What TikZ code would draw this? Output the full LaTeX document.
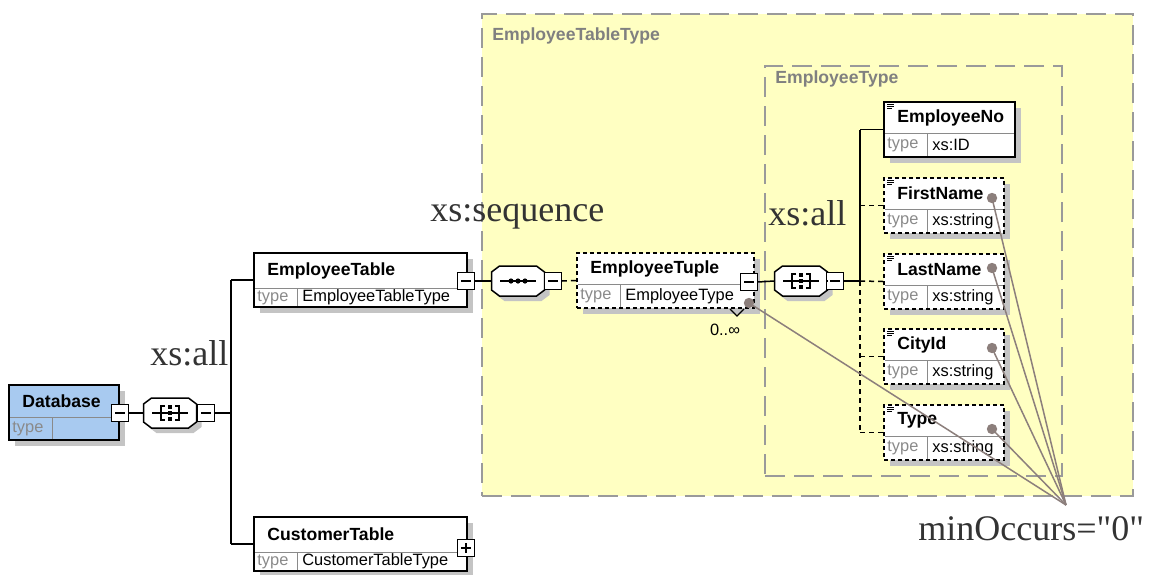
\documentclass[tikz,border=0pt]{standalone}
\usepackage{fontspec}
\setmainfont{Liberation Serif}[Ligatures=TeXOff]
\newfontfamily\uisans{Liberation Sans}
\usetikzlibrary{fit}
\definecolor{grpfill}{HTML}{FFFFC2}
\definecolor{grpline}{HTML}{9A9A9A}
\definecolor{shadowc}{HTML}{C4C4C4}
\definecolor{dbblue}{HTML}{A8CAF0}
\definecolor{dotc}{HTML}{8C7F7C}
\definecolor{typegray}{HTML}{8A8A8A}
\definecolor{annotc}{HTML}{333333}
\definecolor{grplbl}{HTML}{808080}

\tikzset{
 conn/.style={line width=0.75pt, draw=black},
 dconn/.style={conn, dash pattern=on 2.5pt off 2pt},
 ebox/.style={draw=black, line width=1pt, fill=white, inner sep=0pt},
 eboxdash/.style={ebox, dash pattern=on 2pt off 1.5pt},
 dbbox/.style={ebox, fill=dbblue},
 divline/.style={draw=typegray, line width=0.5pt},
 titletxt/.style={font=\uisans\bfseries\fontsize{8.8}{10}\selectfont, anchor=west, inner sep=0pt},
 typelbl/.style={font=\uisans\fontsize{8.2}{9}\selectfont, text=typegray, anchor=west, inner sep=0pt},
 typeval/.style={font=\uisans\fontsize{8.2}{9}\selectfont, anchor=west, inner sep=0pt},
 minusbox/.style={draw=black, line width=0.6pt, fill=white, minimum size=8.2pt, inner sep=0pt,
   path picture={\draw[line width=0.6pt] ([xshift=1.8pt]path picture bounding box.west) -- ([xshift=-1.8pt]path picture bounding box.east);}},
 plusbox/.style={draw=black, line width=0.6pt, fill=white, minimum size=8.2pt, inner sep=0pt,
   path picture={\draw[line width=0.6pt] ([xshift=1.8pt]path picture bounding box.west) -- ([xshift=-1.8pt]path picture bounding box.east)
     ([yshift=-1.8pt]path picture bounding box.north) -- ([yshift=1.8pt]path picture bounding box.south);}},
 compnode/.style={minimum width=26.5pt, minimum height=15pt, inner sep=0pt},
 grpbox/.style={draw=grpline, fill=grpfill, line width=0.9pt, dash pattern=on 10pt off 4.5pt},
 grptxt/.style={font=\uisans\bfseries\fontsize{8.8}{10}\selectfont, text=grplbl, anchor=west, inner sep=0pt},
 annot/.style={font=\fontsize{18}{20}\selectfont, text=annotc, anchor=base west, inner sep=0pt},
 dotnode/.style={circle, fill=dotc, minimum size=5.2pt, inner sep=0pt},
 ptr/.style={draw=dotc, line width=0.75pt},
}

% element box: name, x1, y1, x2, y2, ydiv, title, type value, style
\newcommand\xelem[9]{%
 \fill[shadowc] (#2+6,#3+6) rectangle (#4+6,#5+6);
 \coordinate (#1-nw) at (#2,#3);
 \coordinate (#1-se) at (#4,#5);
 \node[#9, fit=(#1-nw)(#1-se)] (#1) {};
 \draw[divline] (#2+1,#6) -- (#4-1,#6);
 \draw[divline] (#2+43,#6) -- (#2+43,#5-1);
 \node[titletxt] (#1-t) at (#2+13,{(#3+#6)/2}) {#7};
 \node[typelbl] (#1-k) at (#2+3,{(#6+#5)/2}) {type};
 \node[typeval] (#1-v) at (#2+48,{(#6+#5)/2}) {#8};
}
% compositor octagon: name, cx, cy
\newcommand\compo[3]{%
 \begin{scope}[shift={(#2+5,#3+5)}]
  \fill[shadowc] (-26.5,-9) -- (-18.5,-15) -- (18.5,-15) -- (26.5,-9) -- (26.5,9) -- (18.5,15) -- (-18.5,15) -- (-26.5,9) -- cycle;
 \end{scope}
 \begin{scope}[shift={(#2,#3)}]
  \draw[line width=0.75pt, fill=white] (-26.5,-9) -- (-18.5,-15) -- (18.5,-15) -- (26.5,-9) -- (26.5,9) -- (18.5,15) -- (-18.5,15) -- (-26.5,9) -- cycle;
 \end{scope}
 \node[compnode] (#1) at (#2,#3) {};
}
\newcommand\allsym[2]{%
 \begin{scope}[shift={(#1,#2)}, line width=0.6pt]
  \draw (-18,0) -- (18,0);
  \draw (-5,-7) -- (-9,-7) -- (-9,7) -- (-5,7);
  \draw (5,-7) -- (9,-7) -- (9,7) -- (5,7);
  \fill (-1.8,-8) rectangle (1.8,-4.4);
  \fill (-1.8,-1.8) rectangle (1.8,1.8);
  \fill (-1.8,4.4) rectangle (1.8,8);
 \end{scope}
}
\newcommand\seqsym[2]{%
 \begin{scope}[shift={(#1,#2)}, line width=0.6pt]
  \draw (-18,0) -- (18,0);
  \fill (-7,0) circle (1.3pt) (0,0) circle (1.3pt) (7,0) circle (1.3pt);
 \end{scope}
}
\newcommand\docicon[2]{%
 \draw[line width=0.5pt] (#1+3,#2+2.5) -- +(7,0) (#1+3,#2+4.5) -- +(7,0) (#1+3,#2+6.5) -- +(5,0);
}

\begin{document}
\begin{tikzpicture}[x=0.5pt, y=-0.5pt]
\useasboundingbox (0,0) rectangle (1149,574);

% groups
\node[grpbox, inner sep=0pt, fit={(482,14) (1133,496)}] (g1) {};
\node[grptxt] (g1l) at (492,36) {EmployeeTableType};
\node[grpbox, inner sep=0pt, fit={(765,66) (1062,476)}] (g2) {};
\node[grptxt] (g2l) at (775,79) {EmployeeType};

% compositors
\compo{o1}{170}{413}
\compo{o2}{518}{281}
\compo{o3}{801}{281}
\allsym{170}{413}
\seqsym{518}{281}
\allsym{801}{281}

% element boxes
\xelem{db}{9}{385}{119}{440}{417}{Database}{}{dbbox}
\xelem{et}{254}{253}{467}{307}{288}{EmployeeTable}{EmployeeTableType}{ebox}
\xelem{ct}{254}{517}{467}{571}{552}{CustomerTable}{CustomerTableType}{ebox}
\xelem{tu}{577}{253}{754}{308}{284}{EmployeeTuple}{EmployeeType}{eboxdash}
\xelem{en}{884}{102}{1015}{157}{133}{EmployeeNo}{xs:ID}{ebox}
\xelem{fn}{884}{178}{1004}{233}{209}{FirstName}{xs:string}{eboxdash}
\xelem{ln}{884}{254}{1004}{309}{285}{LastName}{xs:string}{eboxdash}
\xelem{ci}{884}{329}{1004}{384}{360}{CityId}{xs:string}{eboxdash}
\xelem{ty}{884}{405}{1004}{460}{436}{Type}{xs:string}{eboxdash}
\docicon{884}{102}
\docicon{884}{178}
\docicon{884}{254}
\docicon{884}{329}
\docicon{884}{405}

% repetition marker
\draw[line width=0.6pt] (730,309) -- (737,316) -- (744,309);
\node[typeval, anchor=center] (rep) at (725,330) {0..∞};

% expand / collapse boxes
\node[minusbox] (m1) at (120,413) {};
\node[minusbox] (m2) at (206,413) {};
\node[minusbox] (m3) at (466,281) {};
\node[minusbox] (m4) at (553,281) {};
\node[minusbox] (m5) at (749,282) {};
\node[minusbox] (m6) at (835,281) {};
\node[plusbox] (p1) at (466,548) {};

% connectors
\coordinate (vb) at (231,413);
\coordinate (vj) at (860,281);
\draw[conn] (m1.east) -- (o1.west);
\draw[conn] (o1.east) -- (m2.west);
\draw[conn] (m2.east) -- (vb);
\draw[conn] (vb |- et.west) -- (vb |- ct.west);
\draw[conn] (vb |- et.west) -- (et.west);
\draw[conn] (vb |- ct.west) -- (ct.west);
\draw[conn] (m3.east) -- (o2.west);
\draw[conn] (o2.east) -- (m4.west);
\draw[dconn] (m4.east) -- (tu.west);
\draw[conn] (m5.east) -- (o3.west);
\draw[conn] (o3.east) -- (m6.west);
\draw[conn] (m6.east) -- (vj);
\draw[conn] (vj |- en.west) -- (vj);
\draw[conn] (vj |- en.west) -- (en.west);
\draw[dconn] (vj |- fn.west) -- (fn.west);
\draw[dconn] (vj) -- (ln.west);
\draw[dconn] (vj) -- (vj |- ty.west);
\draw[dconn] (vj |- ci.west) -- (ci.west);
\draw[dconn] (vj |- ty.west) -- (ty.west);

% annotations
\node[annot] (a1) at (430,221) {xs:sequence};
\node[annot] (a2) at (768,225) {xs:all};
\node[annot] (a3) at (150,365) {xs:all};
\node[annot] (a4) at (918,540) {minOccurs="0"};

% minOccurs pointers
\coordinate (mo) at (1066,505);
\node[dotnode] (d0) at (749,303) {};
\node[dotnode] (d1) at (992,198) {};
\node[dotnode] (d2) at (992,268) {};
\node[dotnode] (d3) at (992,348) {};
\node[dotnode] (d4) at (992,429) {};
\draw[ptr] (d0.center) -- (mo);
\draw[ptr] (d1.center) -- (mo);
\draw[ptr] (d2.center) -- (mo);
\draw[ptr] (d3.center) -- (mo);
\draw[ptr] (d4.center) -- (mo);
\end{tikzpicture}
\end{document}
